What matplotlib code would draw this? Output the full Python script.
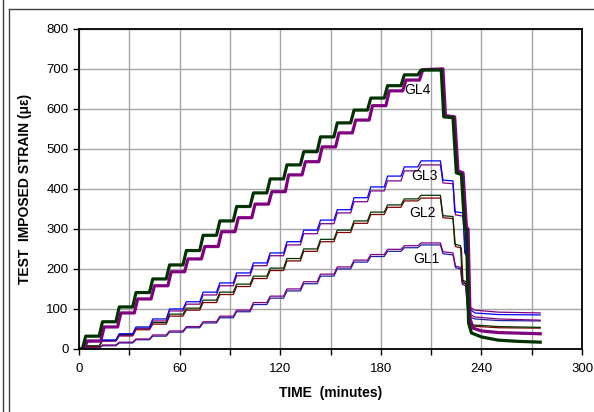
import matplotlib
matplotlib.use('Agg')
import matplotlib.pyplot as plt
from matplotlib.lines import Line2D

plt.rcParams['font.family'] = ['Liberation Sans', 'DejaVu Sans']

# load steps are applied every 10 minutes
step_times = [2, 12, 22, 32, 42, 52, 62, 72, 82, 92, 102,
              112, 122, 132, 142, 152, 162, 172, 182, 192, 202]

# strain level held after each load step (microstrain)
gl4_a = [32, 68, 105, 141, 175, 210, 246, 284, 320, 356, 390,
         425, 460, 493, 530, 565, 597, 627, 658, 685, 697]
gl4_b = [20, 55, 90, 125, 158, 193, 225, 256, 293, 328, 362,
         393, 435, 468, 505, 540, 572, 608, 645, 672, 698]
gl3_a = [20, 22, 38, 55, 75, 100, 118, 142, 165, 190, 215,
         240, 268, 297, 322, 348, 378, 405, 432, 455, 470]
gl3_b = [18, 20, 33, 50, 70, 95, 112, 135, 158, 183, 208,
         233, 260, 288, 313, 340, 368, 395, 420, 445, 460]
gl2_a = [8, 22, 36, 52, 66, 87, 102, 122, 142, 162, 182,
         202, 226, 250, 274, 297, 320, 342, 360, 375, 384]
gl2_b = [6, 20, 33, 48, 62, 82, 97, 116, 136, 156, 176,
         196, 220, 244, 268, 291, 314, 336, 354, 370, 377]
gl1_a = [3, 10, 17, 25, 35, 45, 56, 68, 82, 97, 116,
         132, 150, 168, 187, 205, 222, 236, 249, 258, 265]
gl1_b = [2, 8, 15, 23, 32, 42, 53, 65, 78, 93, 111,
         127, 145, 163, 182, 200, 217, 231, 244, 253, 260]

# unloading part: (minutes, microstrain)
gl4_a_off_t = [216, 217.5, 223, 225, 228, 230, 231, 232.3, 234, 240, 250, 262, 275]
gl4_a_off_v = [697, 580, 578, 440, 436, 300, 298, 65, 40, 30, 22, 19, 17]
gl4_b_off_t = [217, 218.5, 224, 226, 229, 231, 232, 233.2, 235, 240, 250, 275]
gl4_b_off_v = [700, 583, 580, 445, 440, 305, 300, 75, 52, 45, 41, 38]
gl3_a_off_t = [215.5, 217, 223, 224, 229, 230, 232, 233, 236, 250, 275]
gl3_a_off_v = [470, 422, 420, 343, 340, 240, 238, 100, 90, 86, 85]
gl3_b_off_t = [215.5, 217, 223, 224.5, 229, 230.5, 232, 233, 236, 250, 275]
gl3_b_off_v = [460, 415, 413, 335, 332, 235, 232, 105, 97, 92, 90]
gl2_a_off_t = [215.5, 217, 223, 224, 227.5, 228.5, 231, 232, 235, 250, 275]
gl2_a_off_v = [384, 333, 331, 262, 258, 172, 168, 72, 60, 56, 54]
gl2_b_off_t = [215.5, 217, 223, 224.5, 228, 229, 231, 232.5, 235, 250, 275]
gl2_b_off_v = [377, 328, 326, 256, 252, 165, 162, 65, 57, 53, 52]
gl1_a_off_t = [215.5, 217, 223, 224.5, 227.5, 228.5, 230.5, 232, 236, 250, 275]
gl1_a_off_v = [265, 243, 240, 207, 204, 168, 165, 90, 80, 75, 72]
gl1_b_off_t = [215.5, 217, 223, 224.5, 227.5, 228.5, 230.5, 232, 236, 250, 275]
gl1_b_off_v = [260, 238, 235, 203, 200, 162, 158, 82, 75, 71, 70]

labels = ['GL4', 'GL3', 'GL2', 'GL1']
label_pos = [(202, 647), (206, 433), (205, 340), (207, 225)]


def build(levels, off_t, off_v, lag=0.0):
    # rise over ~2 min at every load step, then hold
    t = [0 + lag]
    v = [0]
    prev = 0
    for ts, lv in zip(step_times, levels):
        t += [ts + lag, ts + lag + 2.0]
        v += [prev, lv]
        prev = lv
    return t + off_t, v + off_v


fig = plt.figure(figsize=(5.94, 4.12), dpi=100)
ax = fig.add_axes([0.133, 0.153, 0.847, 0.777])

series = [
    (gl1_b, gl1_b_off_t, gl1_b_off_v, '#2020A0', 0.9, 0.0),
    (gl1_a, gl1_a_off_t, gl1_a_off_v, '#800080', 0.9, 0.0),
    (gl2_b, gl2_b_off_t, gl2_b_off_v, '#800000', 0.9, 0.0),
    (gl2_a, gl2_a_off_t, gl2_a_off_v, '#003300', 0.9, 0.0),
    (gl3_b, gl3_b_off_t, gl3_b_off_v, '#800080', 0.9, 0.0),
    (gl3_a, gl3_a_off_t, gl3_a_off_v, '#0000FF', 0.9, 0.0),
    (gl4_b, gl4_b_off_t, gl4_b_off_v, '#800080', 2.3, 1.0),
    (gl4_a, gl4_a_off_t, gl4_a_off_v, '#003300', 2.3, 0.0),
]
for levels, off_t, off_v, col, lw, lag in series:
    t, v = build(levels, off_t, off_v, lag)
    ax.plot(t, v, color=col, lw=lw)

for name, (x, y) in zip(labels, label_pos):
    ax.text(x, y, name, fontsize=10, ha='center', va='center', color='black')

ax.set_xlim(0, 300)
ax.set_ylim(0, 800)
ax.set_xticks(range(0, 301, 60))
ax.set_xticks(range(0, 301, 30), minor=True)
ax.set_yticks(range(0, 801, 100))
ax.grid(True, which='both', axis='x', color='#A6A6A6', lw=1)
ax.grid(True, which='major', axis='y', color='#A6A6A6', lw=1)
ax.set_axisbelow(True)
ax.tick_params(axis='both', which='both', direction='out', length=4, width=1, labelsize=9.5, colors='black')
ax.tick_params(axis='x', pad=6)
for s in ax.spines.values():
    s.set_linewidth(1.3)
    s.set_color('black')

ax.set_xlabel('TIME  (minutes)', fontsize=10, fontweight='bold', labelpad=8)
ax.set_ylabel('TEST  IMPOSED STRAIN (\u03bc\u03b5)', fontsize=10, fontweight='bold', labelpad=10)

# chart-area frame lines
W, H = 594, 412
fig.add_artist(Line2D([2.5 / W, 2.5 / W], [0, 1], color='#404040', lw=1))
fig.add_artist(Line2D([8.5 / W, 8.5 / W], [0, 1 - 9 / H], color='#404040', lw=1))
fig.add_artist(Line2D([8.5 / W, 1], [1 - 9 / H, 1 - 9 / H], color='#404040', lw=1))

fig.savefig('out.png', dpi=100)
